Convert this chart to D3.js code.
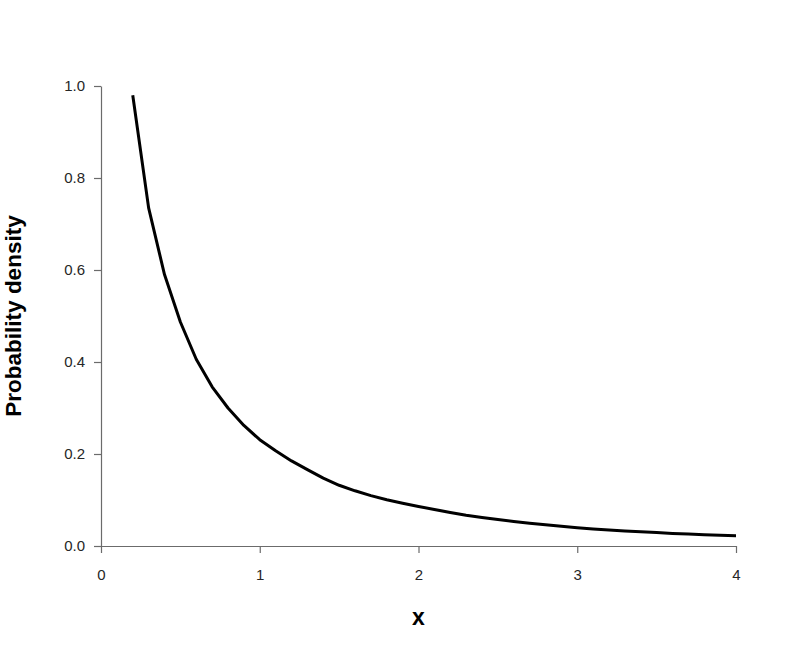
<!DOCTYPE html>
<html>
<head>
<meta charset="utf-8">
<script src="https://cdn.jsdelivr.net/npm/d3@7"></script>
<style>
  html, body { margin: 0; padding: 0; background: #fff; }
  svg { display: block; }
</style>
</head>
<body>
<svg id="chart" width="800" height="649"></svg>
<script>
// Data
const xValues = [0.2, 0.3, 0.4, 0.5, 0.6, 0.7, 0.8, 0.9, 1.0, 1.1, 1.2, 1.3, 1.4, 1.5, 1.6, 1.7, 1.8, 1.9, 2.0,
                 2.1, 2.2, 2.3, 2.4, 2.5, 2.6, 2.7, 2.8, 2.9, 3.0, 3.1, 3.2, 3.3, 3.4, 3.5, 3.6, 3.7, 3.8, 3.9, 4.0];
const densityValues = [0.980, 0.735, 0.590, 0.487, 0.406, 0.346, 0.300, 0.262, 0.231, 0.207, 0.185, 0.166, 0.1475,
                       0.132, 0.120, 0.1095, 0.1005, 0.093, 0.086, 0.0795, 0.073, 0.067, 0.062, 0.0575, 0.0533,
                       0.0496, 0.046, 0.0427, 0.0398, 0.0372, 0.0349, 0.0328, 0.0309, 0.0291, 0.0273, 0.0259,
                       0.0247, 0.0235, 0.0225];
const xTicks = [0, 1, 2, 3, 4];
const yTicks = [0.0, 0.2, 0.4, 0.6, 0.8, 1.0];
const xLabel = "x";
const yLabel = "Probability density";

const svg = d3.select("#chart");
const mLeft = 101, mRight = 736, mTop = 86, mBottom = 546;

const x = d3.scaleLinear().domain([0, 4]).range([mLeft, mRight]);
const y = d3.scaleLinear().domain([0, 1]).range([mBottom, mTop]);

const axisColor = "#6b6b6b";
const textColor = "#262626";

const xAxis = svg.append("g")
  .attr("transform", `translate(0,${mBottom})`)
  .call(d3.axisBottom(x).tickValues(xTicks).tickFormat(d3.format("d")).tickSize(7).tickSizeOuter(0).tickPadding(16));
const yAxis = svg.append("g")
  .attr("transform", `translate(${mLeft},0)`)
  .call(d3.axisLeft(y).tickValues(yTicks).tickFormat(d3.format(".1f")).tickSize(7).tickSizeOuter(0).tickPadding(9));

[xAxis, yAxis].forEach(g => {
  g.select(".domain").attr("stroke", axisColor).attr("stroke-width", 1.2);
  g.selectAll(".tick line").attr("stroke", axisColor).attr("stroke-width", 1.2);
  g.selectAll(".tick text")
    .attr("fill", textColor)
    .style("font-family", "Liberation Sans, Arial, sans-serif")
    .style("font-size", "15px");
});

const data = xValues.map((v, i) => ({ x: v, y: densityValues[i] }));
const line = d3.line().x(d => x(d.x)).y(d => y(d.y));

svg.append("path")
  .datum(data)
  .attr("d", line)
  .attr("fill", "none")
  .attr("stroke", "#000")
  .attr("stroke-width", 3)
  .attr("stroke-linejoin", "round");

svg.append("text")
  .attr("x", (mLeft + mRight) / 2)
  .attr("y", 625)
  .attr("text-anchor", "middle")
  .style("font-family", "Liberation Sans, Arial, sans-serif")
  .style("font-weight", "bold")
  .style("font-size", "23px")
  .attr("fill", "#000")
  .text(xLabel);

svg.append("text")
  .attr("transform", `translate(20.5,${(mTop + mBottom) / 2}) rotate(-90)`)
  .attr("text-anchor", "middle")
  .style("font-family", "Liberation Sans, Arial, sans-serif")
  .style("font-weight", "bold")
  .style("font-size", "22.5px")
  .attr("fill", "#000")
  .text(yLabel);
</script>
</body>
</html>
